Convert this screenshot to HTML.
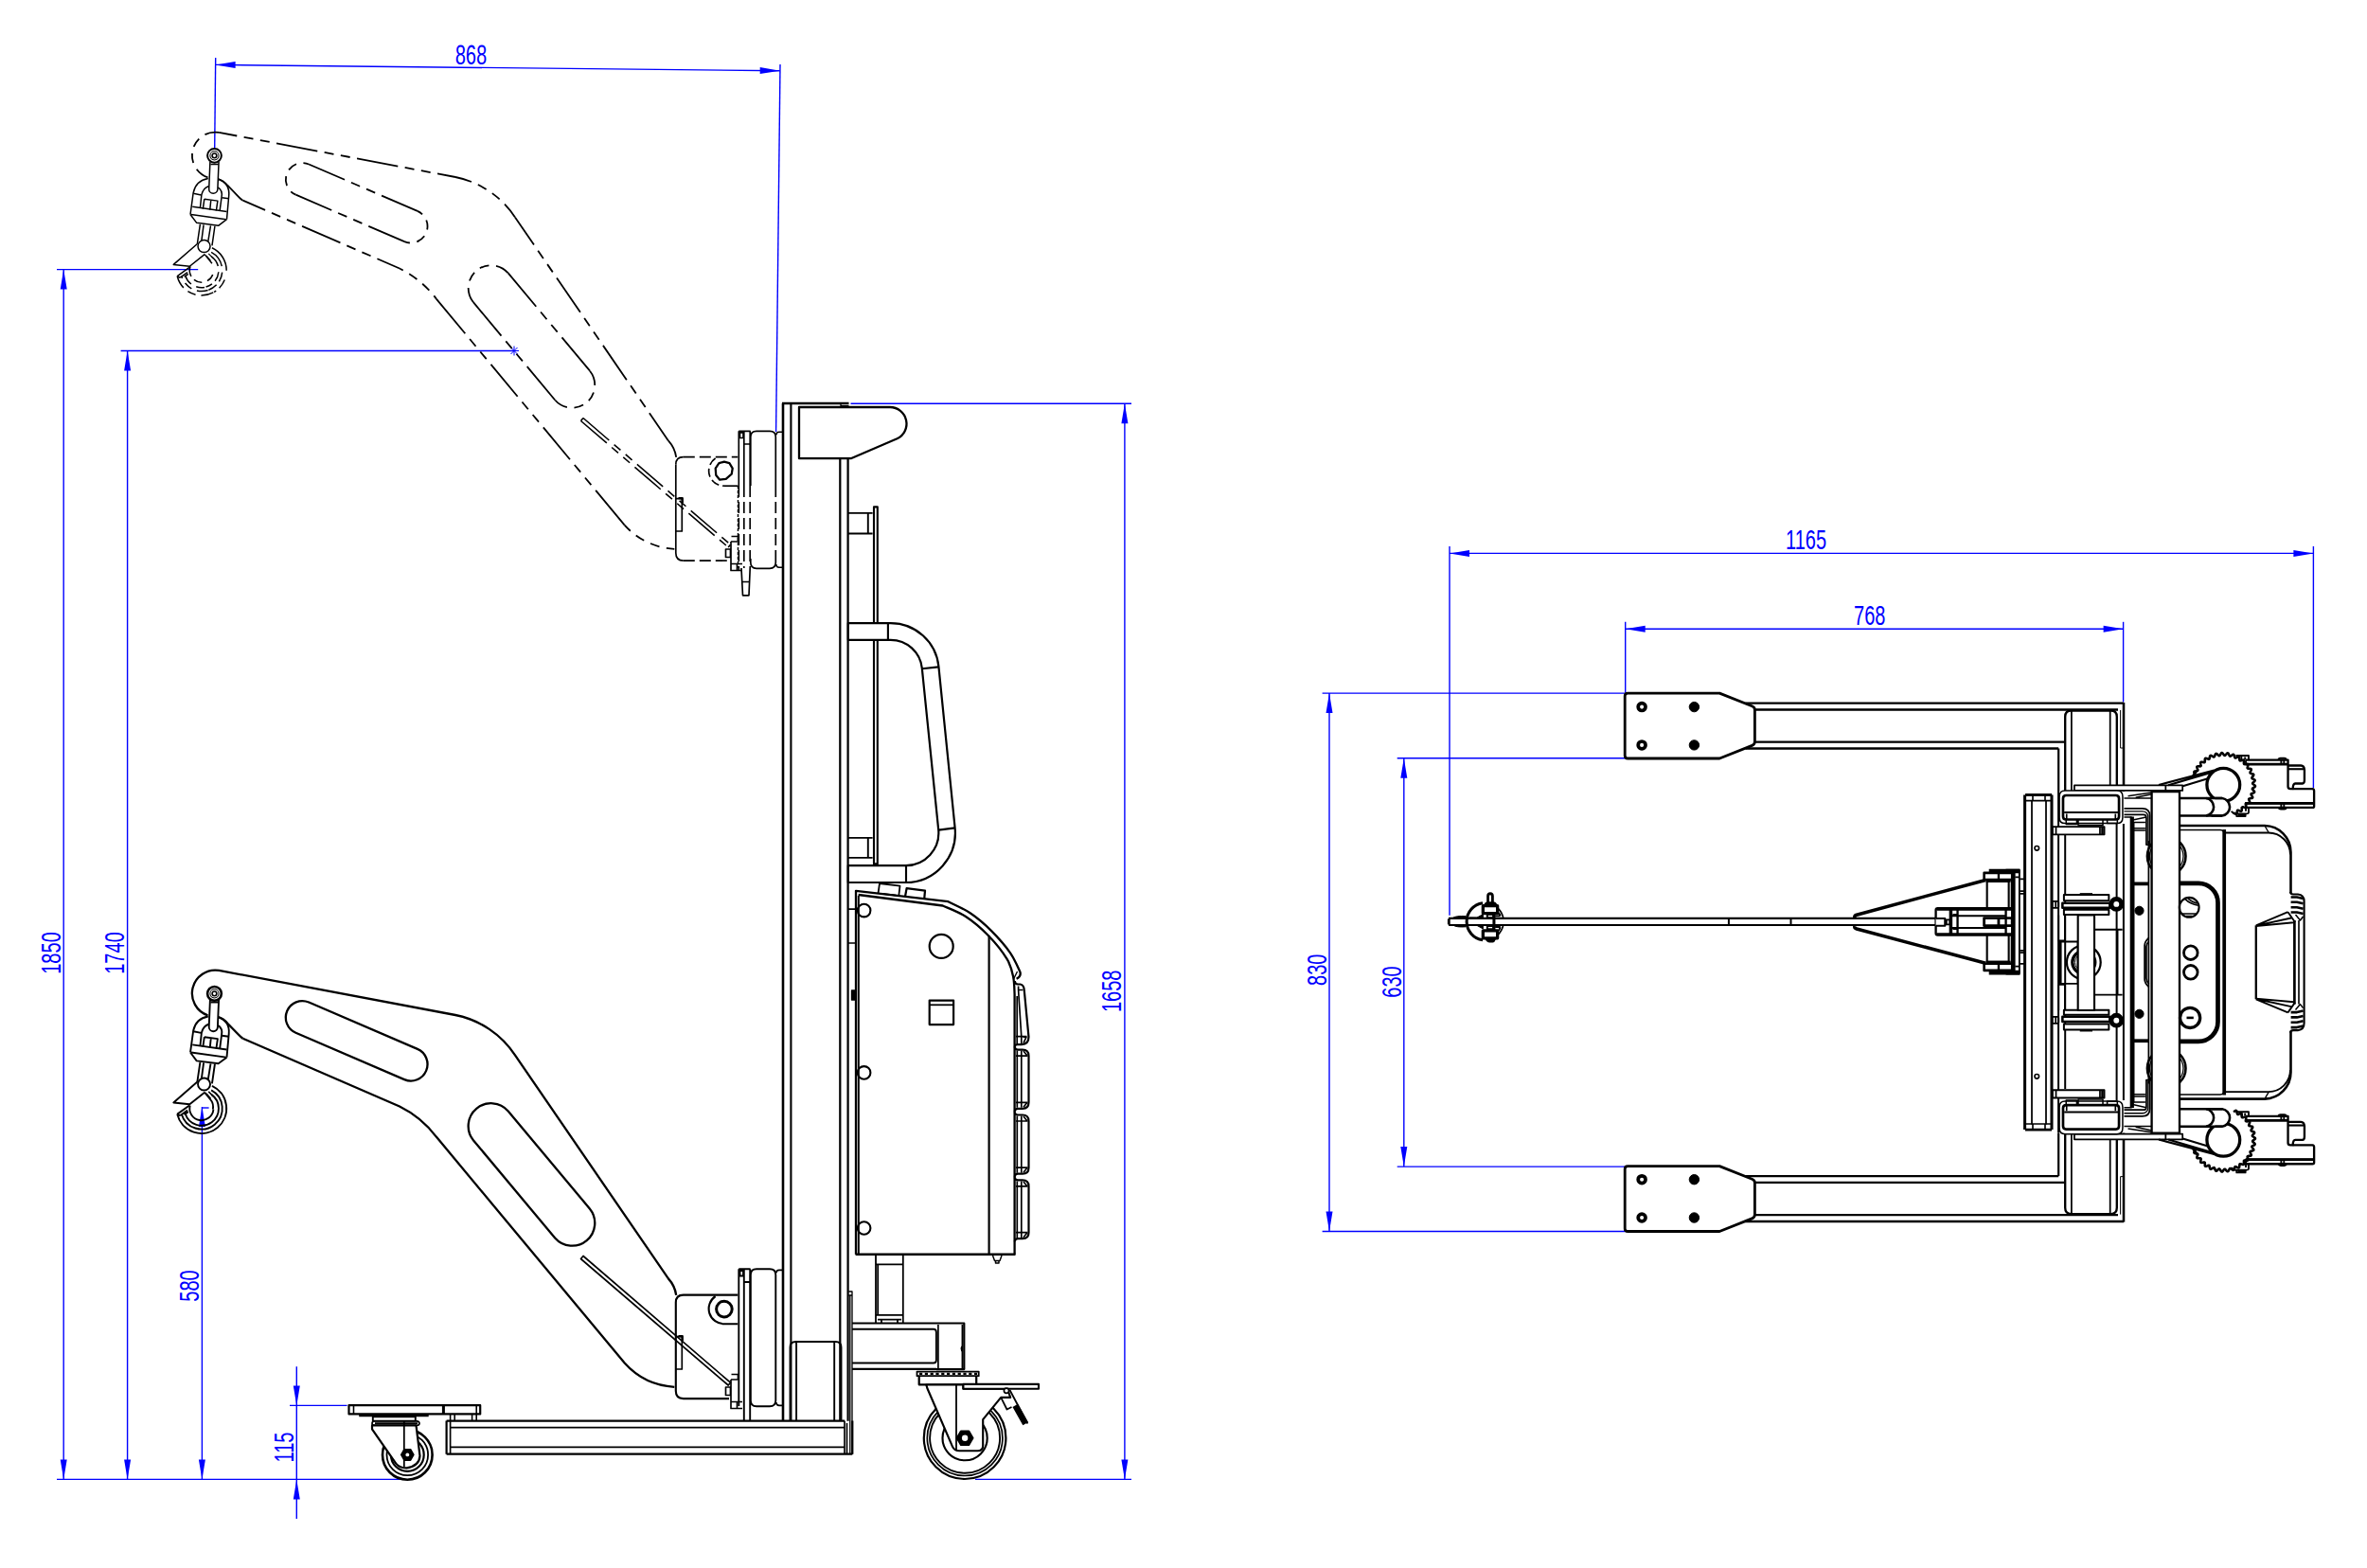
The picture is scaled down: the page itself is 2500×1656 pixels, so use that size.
<!DOCTYPE html>
<html><head><meta charset="utf-8"><title>drawing</title>
<style>html,body{margin:0;padding:0;background:#fff}svg{display:block}text{font-family:"Liberation Sans",sans-serif}</style></head><body>
<svg width="2500" height="1656" viewBox="0 0 2500 1656">
<rect width="2500" height="1656" fill="#fff"/>
<g stroke="#0000ff" fill="none">
<line x1="60.0" y1="1562.4" x2="424.0" y2="1562.4" stroke-width="1.4" />
<line x1="60.0" y1="284.6" x2="209.2" y2="284.6" stroke-width="1.4" />
<line x1="67.2" y1="284.6" x2="67.2" y2="1562.4" stroke-width="1.4" />
<polygon points="67.2,284.6 70.7,305.6 63.7,305.6" fill="#0000ff" stroke="none"/>
<polygon points="67.2,1562.4 63.7,1541.4 70.7,1541.4" fill="#0000ff" stroke="none"/>
<line x1="127.6" y1="370.5" x2="543.0" y2="370.5" stroke-width="1.4" />
<line x1="134.6" y1="370.5" x2="134.6" y2="1562.4" stroke-width="1.4" />
<polygon points="134.6,370.5 138.1,391.5 131.1,391.5" fill="#0000ff" stroke="none"/>
<polygon points="134.6,1562.4 131.1,1541.4 138.1,1541.4" fill="#0000ff" stroke="none"/>
<path d="M539.5,367 l7,7 m0,-7 l-7,7 M538,370.5 h10 M543,365.5 v10" stroke-width="1.0" />
<line x1="213.4" y1="1169.0" x2="213.4" y2="1562.4" stroke-width="1.4" />
<polygon points="213.4,1169.0 216.9,1190.0 209.9,1190.0" fill="#0000ff" stroke="none"/>
<polygon points="213.4,1562.4 209.9,1541.4 216.9,1541.4" fill="#0000ff" stroke="none"/>
<line x1="214.0" y1="1170.0" x2="220.6" y2="1170.0" stroke-width="1.4" />
<line x1="313.3" y1="1443.3" x2="313.3" y2="1604.0" stroke-width="1.4" />
<line x1="306.0" y1="1484.4" x2="366.6" y2="1484.4" stroke-width="1.4" />
<polygon points="313.3,1484.4 309.8,1463.4 316.8,1463.4" fill="#0000ff" stroke="none"/>
<polygon points="313.3,1562.4 316.8,1583.4 309.8,1583.4" fill="#0000ff" stroke="none"/>
<line x1="898.5" y1="426.3" x2="1195.0" y2="426.3" stroke-width="1.4" />
<line x1="1187.9" y1="426.3" x2="1187.9" y2="1562.4" stroke-width="1.4" />
<line x1="1030.0" y1="1562.4" x2="1195.0" y2="1562.4" stroke-width="1.4" />
<polygon points="1187.9,426.3 1191.4,447.3 1184.4,447.3" fill="#0000ff" stroke="none"/>
<polygon points="1187.9,1562.4 1184.4,1541.4 1191.4,1541.4" fill="#0000ff" stroke="none"/>
<line x1="227.7" y1="61.0" x2="226.7" y2="156.0" stroke-width="1.4" />
<line x1="824.0" y1="68.0" x2="819.6" y2="456.0" stroke-width="1.4" />
<line x1="227.6" y1="68.4" x2="823.7" y2="74.8" stroke-width="1.4" />
<polygon points="227.6,68.4 248.6,65.1 248.6,72.1" fill="#0000ff" stroke="none"/>
<polygon points="823.7,74.8 802.7,78.1 802.7,71.1" fill="#0000ff" stroke="none"/>
<line x1="1531.0" y1="577.0" x2="1531.0" y2="966.8" stroke-width="1.4" />
<line x1="2443.4" y1="577.0" x2="2443.4" y2="832.0" stroke-width="1.4" />
<line x1="1531.0" y1="584.4" x2="2443.4" y2="584.4" stroke-width="1.4" />
<polygon points="1531.0,584.4 1552.0,580.9 1552.0,587.9" fill="#0000ff" stroke="none"/>
<polygon points="2443.4,584.4 2422.4,587.9 2422.4,580.9" fill="#0000ff" stroke="none"/>
<line x1="1716.7" y1="656.8" x2="1716.7" y2="731.3" stroke-width="1.4" />
<line x1="2242.6" y1="656.8" x2="2242.6" y2="741.5" stroke-width="1.4" />
<line x1="1716.7" y1="664.2" x2="2242.6" y2="664.2" stroke-width="1.4" />
<polygon points="1716.7,664.2 1737.7,660.7 1737.7,667.7" fill="#0000ff" stroke="none"/>
<polygon points="2242.6,664.2 2221.6,667.7 2221.6,660.7" fill="#0000ff" stroke="none"/>
<line x1="1396.6" y1="732.1" x2="1716.7" y2="732.1" stroke-width="1.4" />
<line x1="1396.6" y1="1300.5" x2="1716.7" y2="1300.5" stroke-width="1.4" />
<line x1="1404.0" y1="732.1" x2="1404.0" y2="1300.5" stroke-width="1.4" />
<polygon points="1404.0,732.1 1407.5,753.1 1400.5,753.1" fill="#0000ff" stroke="none"/>
<polygon points="1404.0,1300.5 1400.5,1279.5 1407.5,1279.5" fill="#0000ff" stroke="none"/>
<line x1="1475.7" y1="800.7" x2="1716.7" y2="800.7" stroke-width="1.4" />
<line x1="1475.7" y1="1232.1" x2="1716.7" y2="1232.1" stroke-width="1.4" />
<line x1="1482.8" y1="800.7" x2="1482.8" y2="1232.1" stroke-width="1.4" />
<polygon points="1482.8,800.7 1486.3,821.7 1479.3,821.7" fill="#0000ff" stroke="none"/>
<polygon points="1482.8,1232.1 1479.3,1211.1 1486.3,1211.1" fill="#0000ff" stroke="none"/>
</g>
<text transform="translate(63.9,1006.5) rotate(-90) scale(0.69,1)" text-anchor="middle" font-size="29" fill="#0000ff" stroke="none">1850</text>
<text transform="translate(131.0,1006.5) rotate(-90) scale(0.69,1)" text-anchor="middle" font-size="29" fill="#0000ff" stroke="none">1740</text>
<text transform="translate(210.2,1358.0) rotate(-90) scale(0.69,1)" text-anchor="middle" font-size="29" fill="#0000ff" stroke="none">580</text>
<text transform="translate(310.0,1528.5) rotate(-90) scale(0.69,1)" text-anchor="middle" font-size="29" fill="#0000ff" stroke="none">115</text>
<text transform="translate(1184.2,1046.8) rotate(-90) scale(0.69,1)" text-anchor="middle" font-size="29" fill="#0000ff" stroke="none">1658</text>
<text transform="translate(497.4,67.8) rotate(0.6) scale(0.69,1)" text-anchor="middle" font-size="29" fill="#0000ff" stroke="none">868</text>
<text transform="translate(1907.5,580.0) rotate(0) scale(0.69,1)" text-anchor="middle" font-size="29" fill="#0000ff" stroke="none">1165</text>
<text transform="translate(1974.7,660.0) rotate(0) scale(0.69,1)" text-anchor="middle" font-size="29" fill="#0000ff" stroke="none">768</text>
<text transform="translate(1401.0,1024.2) rotate(-90) scale(0.69,1)" text-anchor="middle" font-size="29" fill="#0000ff" stroke="none">830</text>
<text transform="translate(1479.8,1037.0) rotate(-90) scale(0.69,1)" text-anchor="middle" font-size="29" fill="#0000ff" stroke="none">630</text>
<g transform="translate(0,0)" fill="none" stroke="#000" stroke-linecap="butt">
<path d="M231.2,139.9 A24.5,24.5 0 0 0 219.5,187.3" stroke-width="1.8" stroke-dasharray="15.1 7.5 10.0 7.5 10.0 7.5 17.1 1000.0"/>
<path d="M231.2,139.9 L481,187" stroke-width="1.8" stroke-dasharray="19.4 7.5 10.0 7.5 10.0 7.5 44.0 7.5 10.0 7.5 10.0 7.5 44.0 7.5 10.0 7.5 10.0 7.5 21.4 1000.0"/>
<path d="M481,187 A99,99 0 0 1 544,229.4" stroke-width="1.8" stroke-dasharray="17.7 7.5 10.0 7.5 10.0 7.5 19.7 1000.0"/>
<path d="M544,229.4 L705.9,465.4" stroke-width="1.8" stroke-dasharray="35.3 7.5 10.0 7.5 10.0 7.5 44.0 7.5 10.0 7.5 10.0 7.5 44.0 7.5 10.0 7.5 10.0 7.5 37.3 1000.0"/>
<path d="M705.9,465.4 A33,33 0 0 1 714.2,482.9" stroke-width="1.8" />
<path d="M229.9,188.8 Q236,190.5 240.5,196 L252,207.8 Q254,210 256.5,211.7" stroke-width="1.8" />
<path d="M256.5,211.7 L422,283.5" stroke-width="1.8" stroke-dasharray="25.7 7.5 10.0 7.5 10.0 7.5 44.0 7.5 10.0 7.5 10.0 7.5 27.7 1000.0"/>
<path d="M422,283.5 A108.7,108.7 0 0 1 460.8,315.6" stroke-width="1.8" stroke-dasharray="4.2 7.5 10.0 7.5 10.0 7.5 6.2 1000.0"/>
<path d="M460.8,315.6 L659.7,554.6" stroke-width="1.8" stroke-dasharray="47.7 7.5 10.0 7.5 10.0 7.5 44.0 7.5 10.0 7.5 10.0 7.5 44.0 7.5 10.0 7.5 10.0 7.5 49.7 1000.0"/>
<path d="M659.7,554.6 A76,76 0 0 0 712.3,579.8" stroke-width="1.8" stroke-dasharray="8.7 7.5 10.0 7.5 10.0 7.5 10.7 1000.0"/>
<path d="M326.2,173.5 L440.9,222.9" stroke-width="1.8" stroke-dasharray="41.2 7.5 10.0 7.5 10.0 7.5 43.2 1000.0"/>
<path d="M312.4,205.7 L427.1,255.1" stroke-width="1.8" stroke-dasharray="41.2 7.5 10.0 7.5 10.0 7.5 43.2 1000.0"/>
<path d="M440.9,222.9 A17.5,17.5 0 0 1 427.1,255.1" stroke-width="1.8" stroke-dasharray="6.2 7.5 10.0 7.5 10.0 7.5 8.2 1000.0"/>
<path d="M312.4,205.7 A17.5,17.5 0 0 1 326.2,173.5" stroke-width="1.8" stroke-dasharray="6.2 7.5 10.0 7.5 10.0 7.5 8.2 1000.0"/>
<path d="M536.7,288.4 L623.0,391.7" stroke-width="1.8" stroke-dasharray="46.1 7.5 10.0 7.5 10.0 7.5 48.1 1000.0"/>
<path d="M499.9,319.2 L586.2,422.5" stroke-width="1.8" stroke-dasharray="46.1 7.5 10.0 7.5 10.0 7.5 48.1 1000.0"/>
<path d="M623.0,391.7 A24,24 0 0 1 586.2,422.5" stroke-width="1.8" stroke-dasharray="16.4 7.5 10.0 7.5 10.0 7.5 18.4 1000.0"/>
<path d="M499.9,319.2 A24,24 0 0 1 536.7,288.4" stroke-width="1.8" stroke-dasharray="16.4 7.5 10.0 7.5 10.0 7.5 18.4 1000.0"/>
</g>
<g transform="translate(0,885)" fill="none" stroke="#000" stroke-linecap="butt">
<path d="M231.2,139.9 L481,187 A99,99 0 0 1 544,229.4 L705.9,465.4 A33,33 0 0 1 714.2,482.9 M231.2,139.9 A24.5,24.5 0 0 0 219.5,187.3 " stroke-width="2.3" />
<path d="M256.5,211.7 L422,283.5 A108.7,108.7 0 0 1 460.8,315.6 L659.7,554.6 A76,76 0 0 0 712.3,579.8" stroke-width="2.3" />
<path d="M229.9,188.8 Q236,190.5 240.5,196 L252,207.8 Q254,210 256.5,211.7" stroke-width="2.3" />
<path d="M326.2,173.5 L440.9,222.9 A17.5,17.5 0 0 1 427.1,255.1 L312.4,205.7 A17.5,17.5 0 0 1 326.2,173.5 Z" stroke-width="2.3" />
<path d="M536.7,288.4 L623.0,391.7 A24,24 0 0 1 586.2,422.5 L499.9,319.2 A24,24 0 0 1 536.7,288.4 Z" stroke-width="2.3" />
</g>
<g fill="none" stroke="#000" stroke-linejoin="round">
<line x1="827.0" y1="426.0" x2="827.0" y2="1500.8" stroke-width="2.6" />
<line x1="835.4" y1="427.0" x2="835.4" y2="1500.8" stroke-width="2.1" />
<line x1="826.0" y1="426.0" x2="896.5" y2="426.0" stroke-width="2.3" />
<line x1="888.0" y1="428.6" x2="896.5" y2="428.6" stroke-width="1.34" />
<line x1="888.0" y1="426.0" x2="888.0" y2="430.0" stroke-width="1.34" />
<line x1="887.3" y1="484.5" x2="887.3" y2="1500.8" stroke-width="2.24" />
<line x1="895.6" y1="484.5" x2="895.6" y2="1500.8" stroke-width="2.24" />
<path d="M844,430 L940,430 A17.5,17.5 0 0 1 947.5,463.3 L898.7,484.2 L844,484.2 Z" stroke-width="2.3" />
<rect x="923.0" y="535.4" width="3.8" height="377.0" rx="0" stroke-width="2.13" />
<path d="M895.8,541.9 H921.6 M895.8,563.5 H921.6 M916.8,541.9 V563.5" stroke-width="1.9" />
<path d="M895.8,884.9 H921.6 M895.8,905.9 H921.6 M916.8,884.9 V905.9" stroke-width="1.9" />
<path d="M895.8,658.1 H940.7 A51,51 0 0 1 991.4,703.9 L1008.6,874.2 A52.4,52.4 0 0 1 956.5,932 H895.8 V914.1 H956.5 A34.5,34.5 0 0 0 991.2,876.4 L973.8,705.7 A33.3,33.3 0 0 0 940.7,675.8 H895.8 Z" stroke-width="2.2" fill="#fff"/>
<path d="M937.9,658.1 V675.8 M973.8,706.3 L991.2,704.4 M991.2,876.6 L1008.6,874.4 M957,913.8 V932" stroke-width="2.13" />
<path d="M904,1324.8 V940.8 L1001.5,952.2  C1005.4,954.2 1017.4,959.4 1025.0,964.5 C1032.6,969.6 1040.1,976.1 1047.1,983.1 C1054.1,990.1 1062.0,999.1 1067.0,1006.3 C1072.0,1013.5 1075.6,1022.9 1077.3,1026.2 Q1079,1031 1073.6,1033.8" stroke-width="2.3" />
<path d="M906.6,945 L995.7,956.5  C999.8,958.4 1012.0,962.8 1020.0,968.0 C1028.0,973.2 1036.5,980.5 1043.8,988.0 C1051.1,995.5 1059.2,1005.6 1063.6,1012.9 C1068.0,1020.2 1068.9,1025.8 1070.2,1032.0 C1071.5,1038.2 1071.4,1047.0 1071.6,1050.0 V1324.8" stroke-width="2.3" />
<path d="M1074.5,1026 L1070.5,1034" stroke-width="1.34" />
<path d="M903.6,1324.8 H1072.5" stroke-width="2.6" />
<line x1="906.8" y1="946.0" x2="906.8" y2="1324.0" stroke-width="2.02" />
<line x1="1044.6" y1="988.0" x2="1044.6" y2="1324.8" stroke-width="2.2" />
<circle cx="994.2" cy="999.4" r="12.5" stroke-width="2.2" />
<circle cx="912.6" cy="961.6" r="6.8" stroke-width="2.1" />
<circle cx="912.6" cy="1132.9" r="6.8" stroke-width="2.1" />
<circle cx="912.6" cy="1297.0" r="6.8" stroke-width="2.1" />
<rect x="981.7" y="1056.6" width="25.4" height="25.5" rx="0" stroke-width="2.2" />
<line x1="981.7" y1="1061.3" x2="1007.1" y2="1061.3" stroke-width="1.79" />
<path d="M927.5,943.5 L929,933 L950.5,935.6 L949.3,946 M931.5,943.9 L946.5,945.7" stroke-width="1.79" />
<path d="M956,947 L957.6,938.1 L977,940.6 L976.2,949.6" stroke-width="2.24" />
<path d="M895.9,960.1 H903.3 M895.9,996 H903.3" stroke-width="1.57" />
<rect x="899.5" y="1046.0" width="4.0" height="10.0" rx="0" stroke-width="1.34" fill="#000"/>
<path d="M1071.8,1036 Q1072,1039.5 1075,1039.5 H1077.5 Q1081.5,1040 1081.8,1046 L1086.5,1095.1 Q1086.5,1103.1 1079,1103.1 H1074.5 Q1072,1103.1 1071.8,1105.6" stroke-width="2.2" />
<path d="M1075.6,1041.5 V1045.5 L1078.8,1094.6 V1102.1 M1075.6,1045.5 H1080.5 M1073,1094.6 H1084.5 M1074.2,1052 V1102.1 M1080.5,1095.1 L1084,1095.1 L1081,1101.6" stroke-width="1.68" />
<path d="M1071.8,1105.6 Q1072,1108.6 1075,1108.6 H1080 Q1086.5,1108.6 1086.5,1115.1 V1164.3 Q1086.5,1170.8 1080,1170.8 H1075 Q1072,1170.8 1071.8,1173.8" stroke-width="2.2" />
<path d="M1074.3,1109.6 V1169.8 M1078.8,1109.6 V1169.8 M1073,1115.1 H1085.5 M1073,1164.3 H1085.5 M1081,1110.1 L1085,1115.1 M1081,1169.3 L1085,1164.3" stroke-width="1.68" />
<path d="M1071.8,1174.5 Q1072,1177.5 1075,1177.5 H1080 Q1086.5,1177.5 1086.5,1184.0 V1233.2 Q1086.5,1239.7 1080,1239.7 H1075 Q1072,1239.7 1071.8,1242.7" stroke-width="2.2" />
<path d="M1074.3,1178.5 V1238.7 M1078.8,1178.5 V1238.7 M1073,1184.0 H1085.5 M1073,1233.2 H1085.5 M1081,1179.0 L1085,1184.0 M1081,1238.2 L1085,1233.2" stroke-width="1.68" />
<path d="M1071.8,1243.4 Q1072,1246.4 1075,1246.4 H1080 Q1086.5,1246.4 1086.5,1252.9 V1301.7 Q1086.5,1308.2 1080,1308.2 H1075 Q1072,1308.2 1071.8,1311.2" stroke-width="2.2" />
<path d="M1074.3,1247.4 V1307.2 M1078.8,1247.4 V1307.2 M1073,1252.9 H1085.5 M1073,1301.7 H1085.5 M1081,1247.9 L1085,1252.9 M1081,1306.7 L1085,1301.7" stroke-width="1.68" />
<path d="M1048.5,1326 L1050.5,1331.5 H1056 L1058,1326 M1051.5,1331.5 V1334 H1055 V1331.5" stroke-width="1.46" />
<path d="M925,1325 V1397.5 M953.8,1325 V1397.5 M927.2,1335.3 V1388.9 M925,1335.3 H953.8 M925,1388.9 H953.8 M927,1393.7 H952 M931,1393.7 V1397 M948,1393.7 V1397" stroke-width="1.79" />
<path d="M896.3,1364 H900 V1535.6 M897.8,1368 V1535.6 M896.3,1368 H900" stroke-width="1.34" />
<path d="M900,1397.5 H1018.3 V1446.1 H989 M900,1445.8 H989" stroke-width="2.2" />
<path d="M900,1403.8 H986 Q988.9,1403.8 988.9,1407 V1436.5 Q988.9,1439.5 986,1439.5 H900" stroke-width="1.9" />
<path d="M990.9,1399 V1445 M1016.4,1399 V1445" stroke-width="1.68" />
<path d="M1016,1422 q-1.5,2.5 0,5" stroke-width="1.68" />
<path d="M968.5,1448.6 H1033.7 V1453.2 H968.5 Z" stroke-width="1.79" />
<line x1="971.0" y1="1450.9" x2="1032.0" y2="1450.9" stroke-width="2.2" stroke-dasharray="3.2 2.6"/>
<path d="M970.7,1453.2 V1462.3 H1017.4 M1031.2,1453.2 V1462 " stroke-width="2.24" />
<circle cx="1019.1" cy="1518.7" r="43.3" stroke-width="2.2" />
<circle cx="1019.1" cy="1518.7" r="39.8" stroke-width="1.68" />
<circle cx="1019.1" cy="1518.7" r="37.0" stroke-width="1.9" />
<circle cx="1019.1" cy="1518.7" r="23.6" stroke-width="2.13" />
<path d="M978.3,1462.5 L979.3,1466 L1005.8,1527.3 Q1008,1532.3 1013.3,1532.3 H1032.4 Q1038.2,1532.3 1038.2,1526.5 V1499.2 L1057.2,1475.9 H1067.2 L1064,1466.8 H1017.4 V1462.3 Z" stroke-width="2.13" fill="#fff"/>
<path d="M1017.4,1461.9 H1097 V1466.8 H1017.4 Z" stroke-width="2.13" fill="#fff"/>
<circle cx="1063.0" cy="1468.8" r="2.6" stroke-width="1.68" fill="#fff"/>
<line x1="1010.0" y1="1462.3" x2="1010.0" y2="1531.8" stroke-width="1.79" />
<path d="M1027.4,1518.7 L1023.2,1525.9 H1015 L1010.8,1518.7 L1015,1511.5 H1023.2 Z" stroke-width="2.24" fill="#000"/>
<circle cx="1019.1" cy="1518.7" r="3.2" stroke-width="1.12" fill="#fff" stroke="none"/>
<path d="M1057.2,1475.9 L1063.5,1488.5 L1068.5,1486 M1066.5,1468 L1085.4,1503.5" stroke-width="1.79" />
<path d="M1072.3,1484.4 L1083.2,1503.6" stroke-width="6.5" stroke-linecap="butt"/>
<path d="M834.5,1500.8 V1423 Q834.5,1417 840.5,1417 H882.5 Q888.5,1417 888.5,1423 V1500.8 M841.1,1418 V1500.8 M881.2,1418 V1500.8" stroke-width="1.9" />
<path d="M471.6,1500.6 H892 M471.6,1535.7 H900.3 M471.6,1500.6 V1535.7 M900.3,1500.6 V1535.7" stroke-width="2.2" />
<path d="M475.6,1507.6 H892 M475.6,1528.3 H892 M475.6,1500.6 V1535.7 M892,1500.6 V1535.7 M894.5,1503 V1535" stroke-width="1.68" />
<rect x="368.5" y="1484.2" width="138.7" height="9.2" rx="0" stroke-width="2.2" />
<path d="M373.5,1484.2 V1493.4 M503.2,1484.2 V1493.4" stroke-width="1.57" />
<line x1="468.4" y1="1484.2" x2="468.4" y2="1493.4" stroke-width="3" />
<path d="M475.6,1493.4 V1500.4 M480.2,1493.4 V1500.4 M498.6,1493.4 V1500.4 M503.2,1493.4 V1500.4" stroke-width="1.57" />
<path d="M379.2,1494.8 H452.7" stroke-width="2.8" />
<rect x="393.8" y="1496.2" width="45.0" height="4.4" rx="0" stroke-width="1.9" />
<path d="M395.5,1500.8 H440 Q443,1501 443,1503.2 Q443,1505.4 440,1505.4 H395.5 Q393,1505.4 393,1503.2 Q393,1501 395.5,1500.8 M396,1503.2 H441" stroke-width="1.68" />
<circle cx="430.3" cy="1536.4" r="26.3" stroke-width="2.6" />
<circle cx="430.3" cy="1536.4" r="21.8" stroke-width="1.79" />
<circle cx="430.3" cy="1536.4" r="17.4" stroke-width="2.2" />
<path d="M393,1505.4 V1509.4 L418.2,1545.6 Q422.5,1550.6 429.7,1550.4 Q443,1548 443.5,1537.6 L439.5,1505.4 Z" stroke-width="2.2" fill="#fff"/>
<line x1="426.8" y1="1500.8" x2="426.8" y2="1549.5" stroke-width="1.79" />
<path d="M436.8,1536.4 L433.5,1542 H427.1 L423.8,1536.4 L427.1,1530.8 H433.5 Z" stroke-width="1.79" fill="#000"/>
<circle cx="430.3" cy="1536.4" r="1.9" stroke-width="1.12" fill="#fff" stroke="none"/>
</g>
<g transform="translate(0,0)" fill="none" stroke="#000" stroke-linejoin="round">
<path d="M713.8,490.6 Q713.8,482.6 721.8,482.6" stroke-width="1.68" />
<path d="M721.8,482.6 H779.3" stroke-width="1.68" stroke-dasharray="12 5"/>
<path d="M713.8,490.6 V584 Q713.8,592.1 721.8,592.1" stroke-width="1.68" />
<path d="M721.8,592.1 H772" stroke-width="1.68" stroke-dasharray="12 5"/>
<path d="M713.8,526.7 H720.3 V561 H713.8" stroke-width="1.68" />
<path d="M716.5,526.2 H720.8 V531" stroke-width="2.2" />
<path d="M755.6,484 A16,16 0 0 0 764.9,513.2" stroke-width="1.68" stroke-dasharray="9 4"/>
<path d="M764.9,513.2 H779.3" stroke-width="1.68" />
<path d="M764.9,487.7 l5.5,1.5 l3.3,5.5 l-1,6 l-6,5.2 l-6.5,0.8 l-4,-5 l-0.5,-7 l3.7,-5.5 Z" stroke-width="2.24" />
<path d="M613.5,444.5 L769.2,578 M616,441.5 L771.5,575.2" stroke-width="1.57" stroke-dasharray="36 7 9 7 9 7" stroke-dashoffset="0"/>
<path d="M613.5,444.5 L616,441.5 M769.2,578 L771.5,575.2" stroke-width="1.57" />
<path d="M772.5,566.5 H779.5 V572 M766.5,580 H771.5 V588.5 H766.5 Z M772,572 V602.5 H784 M772,595.5 H784 M778.5,595.5 V602.5 M772,572 H779.5" stroke-width="1.68" />
<path d="M780.3,455.3 H792.6 M780.3,455.3 V513 M781.5,457 H785 V462.5 H781.5 Z M785.8,455.3 V513 M792.2,455.3 V513 M786,469 H792.5" stroke-width="1.68" />
<path d="M780.3,513 V602 M785.8,513 V600 M792.2,513 V595" stroke-width="1.68" stroke-dasharray="12 5"/>
<path d="M783,600 L784.5,628.8 H791 L792.3,598 M784.2,614.5 H791.6" stroke-width="1.68" />
<path d="M779.5,513 V600" stroke-width="1.46" stroke-dasharray="3 2"/>
<path d="M792.8,513 V461.5 Q792.8,455.3 799,455.3 H813 Q819.3,455.3 819.3,461.5 V513 M792.8,590 V594 Q792.8,600.3 799,600.3 H813 Q819.3,600.3 819.3,594 V590" stroke-width="1.68" />
<path d="M819.3,513 V590" stroke-width="1.68" stroke-dasharray="12 5"/>
<path d="M826.5,456.3 H823 Q819.8,456.3 819.8,459.5 M819.8,596 Q819.8,599.3 823,599.3 H826.5" stroke-width="1.57" />
</g>
<g transform="translate(0,885)" fill="none" stroke="#000" stroke-linejoin="round">
<path d="M713.8,490.6 Q713.8,482.6 721.8,482.6 H779.3 M713.8,490.6 V584 Q713.8,592.1 721.8,592.1 H770" stroke-width="2.13" />
<path d="M713.8,526.7 H720.3 V561 H713.8" stroke-width="1.68" />
<path d="M716.5,526.2 H720.8 V531" stroke-width="2.2" />
<path d="M755.6,484 A16,16 0 0 0 764.9,513.2 H779.3" stroke-width="2.13" />
<circle cx="764.9" cy="497.6" r="8.3" stroke-width="3.0" />
<path d="M613.5,444.5 L769.2,578 L771.5,575.2 L616,441.5 Z" stroke-width="1.68" />
<path d="M772.5,566.5 H779.5 V572 M766.5,580 H771.5 V588.5 H766.5 Z M772,572 V602.5 H784 M772,595.5 H784 M778.5,595.5 V602.5 M772,572 H779.5" stroke-width="1.68" />
<path d="M780.3,455.3 H792.6 M780.3,455.3 V600 M781.5,457 H785 V462.5 H781.5 Z M785.8,455.3 V616 M792.2,455.3 V616 M786,469 H792.5" stroke-width="1.9" />
<path d="M799,455.3 H813 Q819.3,455.3 819.3,461.5 V594 Q819.3,600.3 813,600.3 H799 Q792.8,600.3 792.8,594 V461.5 Q792.8,455.3 799,455.3 Z" stroke-width="1.9" />
<path d="M826.5,456.3 H823 Q819.8,456.3 819.8,459.5 M819.8,596 Q819.8,599.3 823,599.3 H826.5" stroke-width="1.68" />
</g>
<g transform="translate(150,100) scale(0.14793)" fill="none" stroke="#000" stroke-linejoin="round" stroke-linecap="butt">
<path d="M345,855 L366,700 Q385,612 472,598 M545,603 Q628,632 620,722 L605,890" stroke-width="10.14" />
<path d="M415,810 L425,715 Q436,668 474,654 M542,662 Q578,684 568,732 L555,830" stroke-width="10.14" />
<path d="M367,705 L422,716 M570,735 L620,742" stroke-width="10.14" />
<path d="M360,800 L605,835 M350,855 L600,890" stroke-width="10.14" />
<path d="M345,855 L390,915 L545,935 L605,890" stroke-width="10.14" />
<path d="M445,745 L540,758 L530,828 M445,745 L435,815 M492,752 L485,822" stroke-width="10.14" />
<path d="M486,480 L478,672 A31,31 0 0 0 540,675 L548,480" stroke-width="10.14" fill="#fff"/>
<path d="M490,497 H546" stroke-width="10.14" />
<circle cx="517.0" cy="435.0" r="50.0" stroke-width="13.52" fill="#fff"/>
<circle cx="517.0" cy="435.0" r="31.0" stroke-width="6.76" />
<circle cx="517.0" cy="435.0" r="16.0" stroke-width="10.82" />
<path d="M415,925 L395,1062 M440,928 L425,1042 M490,935 L472,1047 M520,938 L500,1078" stroke-width="10.14" />
<path d="M397,1063 L225,1213 L340,1225 L447,1140" stroke-width="10.14" />
<path d="M500.2,1093.7 A178,178 0 0 1 603.0,1255.0" stroke-width="10.14" />
<path d="M590.0,1321.7 A178,178 0 0 1 514.0,1409.2" stroke-width="10.14" stroke-dasharray="70 30"/>
<path d="M508.6,1412.2 A178,178 0 0 1 252.3,1298.1" stroke-width="10.14" stroke-dasharray="90 40 60 40 400"/>
<path d="M494.5,1124.3 A148,148 0 0 1 569.8,1224.2" stroke-width="10.14" />
<path d="M572.4,1267.9 A148,148 0 0 1 475.6,1394.1" stroke-width="10.14" stroke-dasharray="70 30"/>
<path d="M470.7,1395.8 A148,148 0 0 1 282.7,1295.8" stroke-width="10.14" stroke-dasharray="80 40 60 40 400"/>
<path d="M495.0,1155.1 A122,122 0 0 1 542.8,1223.4" stroke-width="10.14" />
<path d="M546.5,1265.6 A122,122 0 0 1 456.6,1372.8" stroke-width="10.14" stroke-dasharray="70 30"/>
<path d="M446.2,1375.1 A122,122 0 0 1 309.0,1292.7" stroke-width="10.14" stroke-dasharray="60 40 400"/>
<path d="M504.9,1284.1 A85,85 0 0 1 351.4,1297.5" stroke-width="10.14" stroke-dasharray="60 40"/>
<path d="M351.4,1297.5 A85,85 0 0 1 345.1,1225.9" stroke-width="10.14" />
<path d="M447,1140 L500,1205" stroke-width="10.14" />
<path d="M250,1297 L338,1233 M250,1297 L272,1306 M272,1306 L325,1268 M302,1300 L330,1280" stroke-width="10.14" />
<path d="M460,1150 L490,1185 M475,1135 L510,1170" stroke-width="8.11" />
<circle cx="443.0" cy="1082.0" r="44.0" stroke-width="10.14" fill="#fff"/>
</g>
<g transform="translate(150,985) scale(0.14793)" fill="none" stroke="#000" stroke-linejoin="round" stroke-linecap="butt">
<path d="M345,855 L366,700 Q385,612 472,598 M545,603 Q628,632 620,722 L605,890" stroke-width="12.84" />
<path d="M415,810 L425,715 Q436,668 474,654 M542,662 Q578,684 568,732 L555,830" stroke-width="12.84" />
<path d="M367,705 L422,716 M570,735 L620,742" stroke-width="12.84" />
<path d="M360,800 L605,835 M350,855 L600,890" stroke-width="12.84" />
<path d="M345,855 L390,915 L545,935 L605,890" stroke-width="12.84" />
<path d="M445,745 L540,758 L530,828 M445,745 L435,815 M492,752 L485,822" stroke-width="12.84" />
<path d="M486,480 L478,672 A31,31 0 0 0 540,675 L548,480" stroke-width="12.84" fill="#fff"/>
<path d="M490,497 H546" stroke-width="12.84" />
<circle cx="517.0" cy="435.0" r="50.0" stroke-width="17.58" fill="#fff"/>
<circle cx="517.0" cy="435.0" r="31.0" stroke-width="6.76" />
<circle cx="517.0" cy="435.0" r="16.0" stroke-width="10.82" />
<path d="M415,925 L395,1062 M440,928 L425,1042 M490,935 L472,1047 M520,938 L500,1078" stroke-width="12.84" />
<path d="M397,1063 L225,1213 L340,1225 L447,1140" stroke-width="12.84" />
<path d="M500.2,1093.7 A178,178 0 1 1 252.3,1298.1" stroke-width="12.84" />
<path d="M494.5,1124.3 A148,148 0 1 1 282.7,1295.8" stroke-width="12.84" />
<path d="M495.0,1155.1 A122,122 0 1 1 309.0,1292.7" stroke-width="12.84" />
<path d="M447,1140 L495,1200 Q512,1225 506,1262" stroke-width="12.84" />
<path d="M509.7,1262.4 A85,85 0 1 1 342.9,1233.0" stroke-width="12.84" />
<path d="M250,1297 L338,1233 M250,1297 L272,1306 M272,1306 L325,1268 M302,1300 L330,1280" stroke-width="12.84" />
<path d="M460,1150 L490,1185 M475,1135 L510,1170" stroke-width="10.28" />
<circle cx="443.0" cy="1082.0" r="44.0" stroke-width="12.84" fill="#fff"/>
</g>
<g fill="none" stroke="#000" stroke-linejoin="round">
<path d="M2174.2,790.5 H1843.5 M1854,783.7 H2181" stroke-width="2.34" />
<path d="M1843.5,742.6 H2243 M1854,749.5 H2237" stroke-width="2.34" />
<path d="M1719.2,732.1 H1816.2 L1850.5,745.7 Q1853.4,746.8 1853.4,749.8 V783.3 Q1853.4,786.3 1850.5,787.4 L1816.2,801 H1719.2 Q1716.2,801 1716.2,798 V735.1 Q1716.2,732.1 1719.2,732.1 Z" stroke-width="2.81" fill="#fff"/>
<circle cx="1734.1" cy="746.6" r="3.9" stroke-width="3.74" />
<circle cx="1789.4" cy="746.6" r="5.2" stroke-width="1" fill="#000"/>
<circle cx="1734.1" cy="786.9" r="3.9" stroke-width="3.74" />
<circle cx="1789.4" cy="786.9" r="5.2" stroke-width="1" fill="#000"/>
<path d="M2181.2,835 V757 Q2181.2,750.5 2187.5,750.5 H2229.5 Q2235.8,750.5 2235.8,757 V829.3" stroke-width="2.34" />
<path d="M2187.9,751 V835 M2228.7,751 V829.3" stroke-width="1.75" />
<path d="M2243,742 V836" stroke-width="2.57" />
<path d="M2239.6,750 V790 H2242" stroke-width="1.0" />
<path d="M2174.2,790.5 V836" stroke-width="2.22" />
<g transform="translate(0,2032.6) scale(1,-1)">
<path d="M2174.2,790.5 H1843.5 M1854,783.7 H2181" stroke-width="2.34" />
<path d="M1843.5,742.6 H2243 M1854,749.5 H2237" stroke-width="2.34" />
<path d="M1719.2,732.1 H1816.2 L1850.5,745.7 Q1853.4,746.8 1853.4,749.8 V783.3 Q1853.4,786.3 1850.5,787.4 L1816.2,801 H1719.2 Q1716.2,801 1716.2,798 V735.1 Q1716.2,732.1 1719.2,732.1 Z" stroke-width="2.81" fill="#fff"/>
<circle cx="1734.1" cy="746.6" r="3.9" stroke-width="3.74" />
<circle cx="1789.4" cy="746.6" r="5.2" stroke-width="1" fill="#000"/>
<circle cx="1734.1" cy="786.9" r="3.9" stroke-width="3.74" />
<circle cx="1789.4" cy="786.9" r="5.2" stroke-width="1" fill="#000"/>
<path d="M2181.2,835 V757 Q2181.2,750.5 2187.5,750.5 H2229.5 Q2235.8,750.5 2235.8,757 V829.3" stroke-width="2.34" />
<path d="M2187.9,751 V835 M2228.7,751 V829.3" stroke-width="1.75" />
<path d="M2243,742 V836" stroke-width="2.57" />
<path d="M2239.6,750 V790 H2242" stroke-width="1.0" />
<path d="M2174.2,790.5 V836" stroke-width="2.22" />
</g>
<path d="M2174.1,836 V1196.6 M2181.2,882 V1150 M2235.6,870 V1162 M2242.9,870 V1162" stroke-width="1.99" />
<path d="M2139.39,839.49 H2167.14" stroke-width="2.57" />
<path d="M2138.6,839.5 V1193.1 M2167,839.5 V1193.1" stroke-width="3.04" />
<path d="M2139,839.5 H2167 M2139,1193.1 H2167" stroke-width="2.57" />
<path d="M2146,845 V1187.6 M2161,845 V1187.6" stroke-width="1.75" />
<path d="M2140,845.6 H2167 M2140,1187.0 H2167 M2147,840 V845.6 M2160,840 V845.6 M2147,1192.6 V1187.0 M2160,1192.6 V1187.0" stroke-width="1.64" />
<circle cx="2151.3" cy="895.8" r="2.3" stroke-width="1.64" />
<circle cx="2151.3" cy="1136.8" r="2.3" stroke-width="1.64" />
<path d="M2190.92,829.29 H2305.20 V834.90 H2190.92 Z" stroke-width="1.75" fill="#fff"/>
<path d="M2287.35,829.29 V834.90" stroke-width="1.75" />
<path d="M2181.22,834.90 H2235.82 Q2241.94,834.90 2241.94,841.02 V863.47 Q2241.94,869.59 2235.82,869.59 H2181.22 Q2175.10,869.59 2175.10,863.47 V841.02 Q2175.10,834.90 2181.22,834.90 Z" stroke-width="1.52" fill="#fff"/>
<path d="M2182.24,840.00 H2234.80 Q2238.06,840.00 2238.06,843.27 V862.24 Q2238.06,865.51 2234.80,865.51 H2182.24 Q2178.98,865.51 2178.98,862.24 V843.27 Q2178.98,840.00 2182.24,840.00 Z" stroke-width="2.69" />
<path d="M2180.20,858.06 H2237.35" stroke-width="1.99" />
<path d="M2182.76,859.39 V865.31 M2234.29,859.39 V865.31" stroke-width="1.64" />
<path d="M2182.24,866.02 V870.61 H2193.47 V866.02 M2225.61,866.02 V869.59 H2236.33 V866.02 M2195.00,866.02 V871.63 H2221.02 V866.02" stroke-width="1.52" />
<path d="M2167.96,873.16 H2222.55 V881.33 H2167.96 Z" stroke-width="1.87" fill="#fff"/>
<path d="M2171.53,873.16 V881.33 M2217.96,873.16 V881.33" stroke-width="1.75" />
<path d="M2220.51,873.16 V881.33" stroke-width="2.57" />
<path d="M2243.47,853.78 H2262.86 Q2270.51,853.78 2270.51,861.43 V892.04 H2266.94 V863.47 Q2266.94,860.41 2263.88,860.41 H2243.47" stroke-width="1.75" />
<path d="M2243.47,856.84 H2262.86 Q2267.96,857.04 2268.78,861.94 V891.02" stroke-width="1.29" />
<path d="M2243.47,843.06 H2272.55 M2243.47,862.96 H2251.63 M2247.55,840.71 L2272.24,836.94 M2255.71,842.24 L2272.55,838.67 M2252.65,866.02 L2266.94,862.96" stroke-width="1.52" />
<path d="M2253.67,868.57 H2265.92 M2253.67,874.69 H2265.92 M2253.67,876.94 H2265.92" stroke-width="1.52" />
<path d="M2253.67,933.37 H2270.00" stroke-width="3.74" />
<path d="M2179.90,945.00 H2227.35 V951.12 H2179.90 Z M2179.90,960.82 H2227.35 V965.92 H2179.90 Z" stroke-width="1.99" fill="#fff"/>
<path d="M2196.73,944.29 H2210.00" stroke-width="2.34" />
<path d="M2167.65,951.84 H2174.29 M2167.65,958.78 H2174.29 M2167.65,951.84 V958.78 M2171.22,952.65 V957.96 M2174.29,952.65 V957.96" stroke-width="1.75" />
<path d="M2178.37,953.67 H2228.37 V958.78 H2178.37 Z" stroke-width="2.57" fill="#fff"/>
<circle cx="2235.3" cy="954.9" r="5.4" stroke-width="4.91" fill="#fff"/>
<circle cx="2259.5" cy="961.8" r="4.6" stroke-width="1" fill="#000"/>
<path d="M2318.76,818.00 L2318.25,817.23 L2317.66,816.39 L2317.32,815.62 L2317.40,815.03 L2318.00,814.61 L2318.85,814.44 L2319.86,814.27 L2320.71,814.10 L2321.31,813.84 L2321.39,813.25 L2321.14,812.49 L2320.71,811.55 L2320.37,810.62 L2320.29,809.94 L2320.71,809.43 L2321.48,809.26 L2322.41,809.26 L2323.43,809.35 L2324.19,809.26 L2324.61,808.92 L2324.70,808.24 L2324.44,807.31 L2324.27,806.38 L2324.19,805.53 L2324.44,804.94 L2325.04,804.68 L2325.89,804.77 L2326.82,804.94 L2327.75,805.19 L2328.43,805.11 L2328.77,804.68 L2328.85,803.92 L2328.77,802.90 L2328.77,801.97 L2328.94,801.20 L2329.45,800.78 L2330.13,800.87 L2331.06,801.20 L2331.99,801.63 L2332.76,801.88 L2333.35,801.80 L2333.60,801.20 L2333.77,800.36 L2333.94,799.34 L2334.11,798.49 L2334.54,797.90 L2335.13,797.81 L2335.89,798.15 L2336.74,798.74 L2337.51,799.25 L2338.18,799.51 L2338.69,799.34 L2339.12,798.74 L2339.37,797.81 L2339.71,796.88 L2340.14,796.12 L2340.73,795.86 L2341.32,796.12 L2342.09,796.71 L2342.77,797.47 L2343.44,797.98 L2343.95,798.24 L2344.46,797.90 L2344.97,797.22 L2345.48,796.37 L2345.99,795.52 L2346.50,795.10 L2347.09,795.10 L2347.68,795.69 L2348.28,796.45 L2348.79,797.30 L2349.38,797.81 L2349.89,797.90 L2350.48,797.56 L2351.08,796.79 L2351.76,796.03 L2352.35,795.52 L2352.94,795.35 L2353.54,795.69 L2353.96,796.45 L2354.39,797.39 L2354.81,798.24 L2355.23,798.66 L2355.74,798.66 L2356.42,798.24 L2357.18,797.64 L2357.95,797.05 L2358.71,796.71 L2359.22,796.88 L2359.64,797.56 L2359.90,798.49 L2360.15,799.42 L2360.41,800.19 L2360.83,800.53 L2361.51,800.44 L2362.27,800.10 L2363.12,799.59 L2363.97,799.25 L2364.65,799.25 L2365.07,799.68 L2365.24,800.53 L2365.33,801.54 L2365.33,802.48 L2365.58,803.16 L2366.01,803.41 L2366.77,803.32 L2367.70,802.99 L2368.63,802.73 L2369.48,802.65 L2369.99,802.90 L2370.16,803.58 L2370.08,804.51 L2369.91,805.53 L2369.91,806.38 L2370.08,806.97 L2370.67,807.14 L2371.52,807.14 L2372.54,806.97 L2373.47,806.89 L2374.15,807.06 L2374.40,807.57 L2374.32,808.41 L2374.06,809.35 L2373.72,810.28 L2373.64,811.04 L2373.89,811.47 L2374.57,811.72 L2375.50,811.72 L2376.52,811.81 L2377.37,811.98 L2377.79,812.40 L2377.79,813.08 L2377.46,813.93 L2376.95,814.78 L2376.61,815.54 L2376.52,816.22 L2376.86,816.64 L2377.63,816.90 L2378.56,817.15 L2379.49,817.40 L2380.17,817.83 L2380.34,818.34 L2380.00,819.10 L2379.41,819.86 L2378.81,820.63 L2378.39,821.31 L2378.39,821.82 L2378.81,822.24 L2379.66,822.66 L2380.59,823.09 L2381.36,823.51 L2381.70,824.11 L2381.53,824.70 L2381.02,825.29 L2380.25,825.97 L2379.49,826.56 L2379.15,827.16 L2379.24,827.67 L2379.75,828.26 L2380.59,828.77 L2381.36,829.36 L2381.95,829.96 L2381.95,830.55 L2381.53,831.06 L2380.68,831.57 L2379.83,832.08 L2379.15,832.59 L2378.81,833.10 L2379.07,833.60 L2379.58,834.28 L2380.34,834.96 L2380.93,835.73 L2381.19,836.32 L2380.93,836.91 L2380.17,837.34 L2379.24,837.68 L2378.30,837.93 L2377.71,838.35 L2377.54,838.86 L2377.79,839.54 L2378.30,840.31 L2378.90,841.15 L2379.24,841.92 L2379.15,842.51 L2378.56,842.93 L2377.71,843.10 L2376.69,843.27 L2375.84,843.44 L2375.25,843.70 L2375.17,844.29 L2375.42,845.06 L2375.84,845.99 L2376.18,846.92 L2376.27,847.60 L2375.84,848.11 L2375.08,848.28 L2374.15,848.28 L2373.13,848.19 L2372.37,848.28 L2371.94,848.62 L2371.86,849.30 L2372.11,850.23 L2372.28,851.16 L2372.37,852.01 L2372.11,852.60 L2371.52,852.86 L2370.67,852.77 L2369.74,852.60 L2368.80,852.35 L2368.13,852.43 L2367.79,852.86 L2367.70,853.62 L2367.79,854.64 L2367.79,855.57 L2367.62,856.34 L2367.11,856.76 L2366.43,856.68 L2365.50,856.34 L2364.56,855.91 L2363.80,855.66 L2363.21,855.74 L2362.95,856.34 L2362.78,857.18 L2362.61,858.20 L2362.44,859.05 L2362.02,859.64 L2361.42,859.73 L2360.66,859.39 L2359.81,858.80 L2359.05,858.29" stroke-width="2.57" />
<path d="M2280.00,829.02 L2338.52,813.59 M2290.18,829.19 L2335.98,815.62 M2305.45,830.21 L2331.91,822.15" stroke-width="2.11" />
<path d="M2316.30,819.19 L2320.71,813.50" stroke-width="2.57" />
<circle cx="2348.3" cy="828.8" r="17.4" stroke-width="3.28" fill="#fff"/>
<path d="M2302.48,842.93 H2347.01 A9.33,9.33 0 0 1 2347.01,861.42 H2302.48" stroke-width="2.57" fill="#fff"/>
<path d="M2330.04,842.93 A9.33,9.33 0 0 1 2330.04,861.42" stroke-width="2.57" />
<path d="M2339.37,842.93 H2347.01 M2335.56,861.42 H2347.01" stroke-width="2.57" />
<g transform="translate(0,2032.6) scale(1,-1)">
<path d="M2190.92,829.29 H2305.20 V834.90 H2190.92 Z" stroke-width="1.75" fill="#fff"/>
<path d="M2287.35,829.29 V834.90" stroke-width="1.75" />
<path d="M2181.22,834.90 H2235.82 Q2241.94,834.90 2241.94,841.02 V863.47 Q2241.94,869.59 2235.82,869.59 H2181.22 Q2175.10,869.59 2175.10,863.47 V841.02 Q2175.10,834.90 2181.22,834.90 Z" stroke-width="1.52" fill="#fff"/>
<path d="M2182.24,840.00 H2234.80 Q2238.06,840.00 2238.06,843.27 V862.24 Q2238.06,865.51 2234.80,865.51 H2182.24 Q2178.98,865.51 2178.98,862.24 V843.27 Q2178.98,840.00 2182.24,840.00 Z" stroke-width="2.69" />
<path d="M2180.20,858.06 H2237.35" stroke-width="1.99" />
<path d="M2182.76,859.39 V865.31 M2234.29,859.39 V865.31" stroke-width="1.64" />
<path d="M2182.24,866.02 V870.61 H2193.47 V866.02 M2225.61,866.02 V869.59 H2236.33 V866.02 M2195.00,866.02 V871.63 H2221.02 V866.02" stroke-width="1.52" />
<path d="M2167.96,873.16 H2222.55 V881.33 H2167.96 Z" stroke-width="1.87" fill="#fff"/>
<path d="M2171.53,873.16 V881.33 M2217.96,873.16 V881.33" stroke-width="1.75" />
<path d="M2220.51,873.16 V881.33" stroke-width="2.57" />
<path d="M2243.47,853.78 H2262.86 Q2270.51,853.78 2270.51,861.43 V892.04 H2266.94 V863.47 Q2266.94,860.41 2263.88,860.41 H2243.47" stroke-width="1.75" />
<path d="M2243.47,856.84 H2262.86 Q2267.96,857.04 2268.78,861.94 V891.02" stroke-width="1.29" />
<path d="M2243.47,843.06 H2272.55 M2243.47,862.96 H2251.63 M2247.55,840.71 L2272.24,836.94 M2255.71,842.24 L2272.55,838.67 M2252.65,866.02 L2266.94,862.96" stroke-width="1.52" />
<path d="M2253.67,868.57 H2265.92 M2253.67,874.69 H2265.92 M2253.67,876.94 H2265.92" stroke-width="1.52" />
<path d="M2253.67,933.37 H2270.00" stroke-width="3.74" />
<path d="M2179.90,945.00 H2227.35 V951.12 H2179.90 Z M2179.90,960.82 H2227.35 V965.92 H2179.90 Z" stroke-width="1.99" fill="#fff"/>
<path d="M2196.73,944.29 H2210.00" stroke-width="2.34" />
<path d="M2167.65,951.84 H2174.29 M2167.65,958.78 H2174.29 M2167.65,951.84 V958.78 M2171.22,952.65 V957.96 M2174.29,952.65 V957.96" stroke-width="1.75" />
<path d="M2178.37,953.67 H2228.37 V958.78 H2178.37 Z" stroke-width="2.57" fill="#fff"/>
<circle cx="2235.3" cy="954.9" r="5.4" stroke-width="4.91" fill="#fff"/>
<circle cx="2259.5" cy="961.8" r="4.6" stroke-width="1" fill="#000"/>
<path d="M2318.76,818.00 L2318.25,817.23 L2317.66,816.39 L2317.32,815.62 L2317.40,815.03 L2318.00,814.61 L2318.85,814.44 L2319.86,814.27 L2320.71,814.10 L2321.31,813.84 L2321.39,813.25 L2321.14,812.49 L2320.71,811.55 L2320.37,810.62 L2320.29,809.94 L2320.71,809.43 L2321.48,809.26 L2322.41,809.26 L2323.43,809.35 L2324.19,809.26 L2324.61,808.92 L2324.70,808.24 L2324.44,807.31 L2324.27,806.38 L2324.19,805.53 L2324.44,804.94 L2325.04,804.68 L2325.89,804.77 L2326.82,804.94 L2327.75,805.19 L2328.43,805.11 L2328.77,804.68 L2328.85,803.92 L2328.77,802.90 L2328.77,801.97 L2328.94,801.20 L2329.45,800.78 L2330.13,800.87 L2331.06,801.20 L2331.99,801.63 L2332.76,801.88 L2333.35,801.80 L2333.60,801.20 L2333.77,800.36 L2333.94,799.34 L2334.11,798.49 L2334.54,797.90 L2335.13,797.81 L2335.89,798.15 L2336.74,798.74 L2337.51,799.25 L2338.18,799.51 L2338.69,799.34 L2339.12,798.74 L2339.37,797.81 L2339.71,796.88 L2340.14,796.12 L2340.73,795.86 L2341.32,796.12 L2342.09,796.71 L2342.77,797.47 L2343.44,797.98 L2343.95,798.24 L2344.46,797.90 L2344.97,797.22 L2345.48,796.37 L2345.99,795.52 L2346.50,795.10 L2347.09,795.10 L2347.68,795.69 L2348.28,796.45 L2348.79,797.30 L2349.38,797.81 L2349.89,797.90 L2350.48,797.56 L2351.08,796.79 L2351.76,796.03 L2352.35,795.52 L2352.94,795.35 L2353.54,795.69 L2353.96,796.45 L2354.39,797.39 L2354.81,798.24 L2355.23,798.66 L2355.74,798.66 L2356.42,798.24 L2357.18,797.64 L2357.95,797.05 L2358.71,796.71 L2359.22,796.88 L2359.64,797.56 L2359.90,798.49 L2360.15,799.42 L2360.41,800.19 L2360.83,800.53 L2361.51,800.44 L2362.27,800.10 L2363.12,799.59 L2363.97,799.25 L2364.65,799.25 L2365.07,799.68 L2365.24,800.53 L2365.33,801.54 L2365.33,802.48 L2365.58,803.16 L2366.01,803.41 L2366.77,803.32 L2367.70,802.99 L2368.63,802.73 L2369.48,802.65 L2369.99,802.90 L2370.16,803.58 L2370.08,804.51 L2369.91,805.53 L2369.91,806.38 L2370.08,806.97 L2370.67,807.14 L2371.52,807.14 L2372.54,806.97 L2373.47,806.89 L2374.15,807.06 L2374.40,807.57 L2374.32,808.41 L2374.06,809.35 L2373.72,810.28 L2373.64,811.04 L2373.89,811.47 L2374.57,811.72 L2375.50,811.72 L2376.52,811.81 L2377.37,811.98 L2377.79,812.40 L2377.79,813.08 L2377.46,813.93 L2376.95,814.78 L2376.61,815.54 L2376.52,816.22 L2376.86,816.64 L2377.63,816.90 L2378.56,817.15 L2379.49,817.40 L2380.17,817.83 L2380.34,818.34 L2380.00,819.10 L2379.41,819.86 L2378.81,820.63 L2378.39,821.31 L2378.39,821.82 L2378.81,822.24 L2379.66,822.66 L2380.59,823.09 L2381.36,823.51 L2381.70,824.11 L2381.53,824.70 L2381.02,825.29 L2380.25,825.97 L2379.49,826.56 L2379.15,827.16 L2379.24,827.67 L2379.75,828.26 L2380.59,828.77 L2381.36,829.36 L2381.95,829.96 L2381.95,830.55 L2381.53,831.06 L2380.68,831.57 L2379.83,832.08 L2379.15,832.59 L2378.81,833.10 L2379.07,833.60 L2379.58,834.28 L2380.34,834.96 L2380.93,835.73 L2381.19,836.32 L2380.93,836.91 L2380.17,837.34 L2379.24,837.68 L2378.30,837.93 L2377.71,838.35 L2377.54,838.86 L2377.79,839.54 L2378.30,840.31 L2378.90,841.15 L2379.24,841.92 L2379.15,842.51 L2378.56,842.93 L2377.71,843.10 L2376.69,843.27 L2375.84,843.44 L2375.25,843.70 L2375.17,844.29 L2375.42,845.06 L2375.84,845.99 L2376.18,846.92 L2376.27,847.60 L2375.84,848.11 L2375.08,848.28 L2374.15,848.28 L2373.13,848.19 L2372.37,848.28 L2371.94,848.62 L2371.86,849.30 L2372.11,850.23 L2372.28,851.16 L2372.37,852.01 L2372.11,852.60 L2371.52,852.86 L2370.67,852.77 L2369.74,852.60 L2368.80,852.35 L2368.13,852.43 L2367.79,852.86 L2367.70,853.62 L2367.79,854.64 L2367.79,855.57 L2367.62,856.34 L2367.11,856.76 L2366.43,856.68 L2365.50,856.34 L2364.56,855.91 L2363.80,855.66 L2363.21,855.74 L2362.95,856.34 L2362.78,857.18 L2362.61,858.20 L2362.44,859.05 L2362.02,859.64 L2361.42,859.73 L2360.66,859.39 L2359.81,858.80 L2359.05,858.29" stroke-width="2.57" />
<path d="M2280.00,829.02 L2338.52,813.59 M2290.18,829.19 L2335.98,815.62 M2305.45,830.21 L2331.91,822.15" stroke-width="2.11" />
<path d="M2316.30,819.19 L2320.71,813.50" stroke-width="2.57" />
<circle cx="2348.3" cy="828.8" r="17.4" stroke-width="3.28" fill="#fff"/>
<path d="M2302.48,842.93 H2347.01 A9.33,9.33 0 0 1 2347.01,861.42 H2302.48" stroke-width="2.57" fill="#fff"/>
<path d="M2330.04,842.93 A9.33,9.33 0 0 1 2330.04,861.42" stroke-width="2.57" />
<path d="M2339.37,842.93 H2347.01 M2335.56,861.42 H2347.01" stroke-width="2.57" />
</g>
<path d="M2361.42,797.98 H2375.00 V802.22 M2367.36,797.98 V802.22 M2371.18,799.51 V802.22" stroke-width="1.87" />
<path d="M2372.03,802.56 H2416.56 V830.89 Q2416.73,833.01 2419.10,833.10 H2421.65 Q2421.82,827.67 2424.19,827.50 H2431.82 Q2433.94,827.33 2433.94,824.11 V813.08 Q2433.69,808.67 2430.13,808.50 H2416.56" stroke-width="2.34" />
<path d="M2372.03,807.14 H2416.56" stroke-width="2.81" />
<path d="M2372.03,802.56 V807.14" stroke-width="1.87" />
<path d="M2416.56,812.23 H2433.10" stroke-width="2.11" />
<path d="M2406.38,802.22 Q2406.80,800.78 2408.50,800.78 H2412.74 Q2414.44,800.78 2414.86,802.22 M2409.35,802.56 V807.14 M2412.32,802.56 V807.14" stroke-width="1.87" />
<path d="M2421.65,833.10 H2442.43 Q2444.12,833.27 2444.12,835.13 V851.67 Q2444.12,852.94 2442.43,852.94 H2372.03 V848.28 H2444.12" stroke-width="2.34" />
<path d="M2372.03,848.28 H2443.70" stroke-width="2.81" />
<path d="M2409.35,848.28 V852.94 M2412.32,848.28 V852.94 M2406.38,853.11 Q2407.23,854.64 2408.92,854.64 H2412.74 Q2414.44,854.64 2415.03,853.11" stroke-width="1.87" />
<path d="M2372.03,852.94 V856.76 M2375.00,852.94 V858.03 Q2374.83,859.30 2372.88,859.39 H2362.27 V862.10 H2371.60 V859.39 M2363.55,860.58 H2371.18" stroke-width="1.87" />
<path d="M2356.76,856.76 Q2358.88,859.73 2362.27,859.39" stroke-width="2.11" />
<g transform="translate(0,376.3)">
<path d="M2361.42,797.98 H2375.00 V802.22 M2367.36,797.98 V802.22 M2371.18,799.51 V802.22" stroke-width="1.87" />
<path d="M2372.03,802.56 H2416.56 V830.89 Q2416.73,833.01 2419.10,833.10 H2421.65 Q2421.82,827.67 2424.19,827.50 H2431.82 Q2433.94,827.33 2433.94,824.11 V813.08 Q2433.69,808.67 2430.13,808.50 H2416.56" stroke-width="2.34" />
<path d="M2372.03,807.14 H2416.56" stroke-width="2.81" />
<path d="M2372.03,802.56 V807.14" stroke-width="1.87" />
<path d="M2416.56,812.23 H2433.10" stroke-width="2.11" />
<path d="M2406.38,802.22 Q2406.80,800.78 2408.50,800.78 H2412.74 Q2414.44,800.78 2414.86,802.22 M2409.35,802.56 V807.14 M2412.32,802.56 V807.14" stroke-width="1.87" />
<path d="M2421.65,833.10 H2442.43 Q2444.12,833.27 2444.12,835.13 V851.67 Q2444.12,852.94 2442.43,852.94 H2372.03 V848.28 H2444.12" stroke-width="2.34" />
<path d="M2372.03,848.28 H2443.70" stroke-width="2.81" />
<path d="M2409.35,848.28 V852.94 M2412.32,848.28 V852.94 M2406.38,853.11 Q2407.23,854.64 2408.92,854.64 H2412.74 Q2414.44,854.64 2415.03,853.11" stroke-width="1.87" />
<path d="M2372.03,852.94 V856.76 M2375.00,852.94 V858.03 Q2374.83,859.30 2372.88,859.39 H2362.27 V862.10 H2371.60 V859.39 M2363.55,860.58 H2371.18" stroke-width="1.87" />
<path d="M2356.76,856.76 Q2358.88,859.73 2362.27,859.39" stroke-width="2.11" />
</g>
<path d="M2175.31,994.49 H2194.69 V1038.88 H2175.31 Z" stroke-width="1.87" />
<path d="M2175.82,994.49 V1038.88" stroke-width="3.51" />
<path d="M2174.29,966.43 V993.47 H2180.92 M2180.92,966.43 V993.47 M2174.29,1039.90 H2180.92 M2174.29,1039.90 V1066.94 M2180.92,1039.90 V1066.94" stroke-width="1.75" />
<path d="M2212.04,981.73 H2241.63 M2212.04,1050.61 H2241.63 M2236.53,981.73 V1050.61" stroke-width="1.87" />
<circle cx="2200.8" cy="1016.3" r="17.9" stroke-width="2.22" />
<circle cx="2200.8" cy="1016.3" r="12.0" stroke-width="3.28" />
<circle cx="2200.8" cy="1016.3" r="9.3" stroke-width="1.0" />
<path d="M2194.69,966.43 H2212.04 V1066.94 H2194.69 Z" stroke-width="2.11" fill="#fff"/>
<path d="M2251.8,862.5 V1170.1" stroke-width="4.21" />
<path d="M2253.8,868 V1164.6" stroke-width="1.4" />
<path d="M2269.4,888 V1144.6" stroke-width="1.75" />
<path d="M2269.69,990.41 Q2265.10,994.49 2265.10,998.57 V1034.29 Q2265.10,1038.37 2269.69,1042.45 M2269.69,994.49 Q2266.94,996.53 2266.94,999.59 V1033.27 Q2266.94,1036.33 2269.69,1038.88" stroke-width="1.75" />
<circle cx="2288.2" cy="904.3" r="20.3" stroke-width="2.57" />
<circle cx="2288.2" cy="904.3" r="17.8" stroke-width="1.29" />
<circle cx="2288.2" cy="1128.3" r="20.3" stroke-width="2.57" />
<circle cx="2288.2" cy="1128.3" r="17.8" stroke-width="1.29" />
<path d="M2272.6,836 H2302 V1196.6 H2272.6 Z" stroke-width="2.34" fill="#fff"/>
<path d="M2302.5,872 H2392 A28,28 0 0 1 2419.5,900 V943 M2419.5,1089.6 V1132.6 A28,28 0 0 1 2392,1160.6 H2302.5" stroke-width="2.57" />
<path d="M2302.5,876.6 H2345 Q2349,877 2349.5,881 V1151.6 Q2349,1155.6 2345,1156.0 H2302.5" stroke-width="1.52" />
<path d="M2349.5,879.5 H2396 A23,23 0 0 1 2419,902.5 M2349.5,1153.1 H2396 A23,23 0 0 0 2419,1130.1" stroke-width="1.87" />
<path d="M2349.2,876 V1156.6" stroke-width="3.74" />
<path d="M2392.5,873 L2396,879 M2392.5,1159.6 L2396,1153.6" stroke-width="1.4" />
<path d="M2302.5,932.8 H2322 A20.5,20.5 0 0 1 2342.5,953.3 V1079.3 A20.5,20.5 0 0 1 2322,1099.8 H2302.5" stroke-width="4.68" />
<circle cx="2312.2" cy="958.3" r="10.4" stroke-width="2.11" />
<path d="M2307.96,949.59 Q2313.06,954.69 2321.73,956.22 M2311.02,949.08 Q2315.10,952.65 2320.71,954.18 M2303.88,964.90 H2319.69 M2308.47,967.45 H2315.61" stroke-width="1.52" />
<circle cx="2313.8" cy="1006.2" r="7.3" stroke-width="2.81" />
<circle cx="2313.8" cy="1026.8" r="7.3" stroke-width="2.81" />
<circle cx="2313.1" cy="1074.9" r="10.6" stroke-width="3.28" />
<path d="M2309.5,1074.9 H2316.8" stroke-width="2.57" />
<circle cx="2259.5" cy="1070.8" r="0.0" stroke-width="0" />
<path d="M2418.8,942 Q2419.5,944.5 2422,944.5 H2427 Q2433.6,945 2433.6,952 V1080.6 Q2433.6,1087.6 2427,1088.1 H2422 Q2419.5,1088.1 2418.8,1090.6" stroke-width="2.11" />
<path d="M2419.6,947.5 H2426 L2432.6,949.0 M2419.6,1085.1 H2426 L2432.6,1083.6" stroke-width="2.57" />
<path d="M2419.6,952.8 H2426 L2432.6,954.3 M2419.6,1079.8 H2426 L2432.6,1078.3" stroke-width="2.57" />
<path d="M2419.6,958.2 H2426 L2432.6,959.7 M2419.6,1074.3999999999999 H2426 L2432.6,1072.8999999999999" stroke-width="2.57" />
<path d="M2419.6,963.5 H2426 L2432.6,965.0 M2419.6,1069.1 H2426 L2432.6,1067.6" stroke-width="2.57" />
<path d="M2423.4,972 V1060.6" stroke-width="2.69" />
<path d="M2428,972 V1060.6" stroke-width="1.64" />
<path d="M2382.8,977.3 V1055.3" stroke-width="2.34" />
<path d="M2382.8,977.3 L2416.5,963.2 M2382.8,977.6 L2420,969.5 M2382.8,978 L2422.6,974.3 M2416.5,963.2 L2424,974" stroke-width="1.87" />
<path d="M2382.8,1055.3 L2416.5,1069.3999999999999 M2382.8,1055.0 L2420,1063.1 M2382.8,1054.6 L2422.6,1058.3 M2416.5,1069.3999999999999 L2424,1058.6" stroke-width="1.87" />
<path d="M2424.5,966 L2429.5,972 L2432.5,968 M2424.5,1066.6 L2429.5,1060.6 L2432.5,1064.6" stroke-width="1.52" />
</g>
<g fill="none" stroke="#000" stroke-linejoin="round">
<path d="M1530,969.8 H2054.3 M1530,977 H2054.3" stroke-width="2.22" />
<path d="M1825.9,969.8 V977 M1891.5,969.8 V977" stroke-width="1.99" />
<path d="M1530.29,970.38 V976.44" stroke-width="2.81" />
<path d="M1534.44,969.43 Q1538.27,966.88 1548.15,967.70 V969.43 Z M1534.44,976.89 Q1538.27,979.63 1548.15,978.80 V976.89 Z" stroke-width="1.0" fill="#000"/>
<path d="M1566.01,953.80 A19.64,19.64 0 0 0 1566.01,992.70" stroke-width="3.04" />
<path d="M1581.95,959.22 A19.64,19.64 0 0 1 1587.69,969.43 M1581.95,987.28 A19.64,19.64 0 0 0 1587.69,977.08" stroke-width="1.75" />
<path d="M1551.66,969.11 H1559.95 L1566.33,965.60 V969.43 Z M1551.66,977.40 H1559.95 L1566.33,980.91 V977.08 Z" stroke-width="1.0" fill="#000"/>
<path d="M1566.33,956.67 H1581.63 V964.64 H1566.33 Z M1566.33,982.82 H1581.63 V990.79 H1566.33 Z" stroke-width="3.28" fill="#fff"/>
<path d="M1568.56,954.76 Q1569.52,953.16 1571.43,953.16 H1577.17 Q1579.08,953.16 1580.04,954.76 Z M1569.52,991.75 Q1570.79,994.62 1573.34,994.74 H1576.53 Q1578.12,994.49 1579.08,991.75 Z" stroke-width="1.75" fill="#000"/>
<path d="M1571.56,953.16 V946.15 Q1571.75,943.72 1573.98,943.72 Q1576.21,943.72 1576.40,946.15 V953.16" stroke-width="2.81" />
<path d="M1577.93,964.64 V982.82" stroke-width="3.04" />
<path d="M1570.79,965.92 H1577.17 V969.11 H1570.79 Z M1570.79,978.04 H1577.17 V981.22 H1570.79 Z M1579.08,967.32 H1584.82 M1579.08,978.99 H1584.82 M1584.82,967.32 L1582.91,964.01 M1584.82,978.99 L1582.91,982.82" stroke-width="1.87" />
<path d="M2097.14,929.49 L1960.92,966.22 Q1958.37,966.94 1958.88,969.29 M2097.14,1017.24 L1960.92,981.02 Q1958.37,980.31 1958.88,978.16" stroke-width="3.51" />
<path d="M2095.61,921.84 H2125.20 V928.98 H2095.61 Z M2095.61,1017.76 H2125.20 V1024.90 H2095.61 Z" stroke-width="2.57" />
<path d="M2110.92,921.84 V928.98 M2110.92,1017.76 V1024.90" stroke-width="2.34" />
<path d="M2100.71,920.00 H2133.37 M2100.71,1027.14 H2133.37" stroke-width="4.68" />
<path d="M2098.67,931.02 H2121.63 V1015.71 H2098.67 Z" stroke-width="2.11" />
<path d="M2097.65,930.00 H2123.67 M2097.65,1016.53 H2123.67" stroke-width="3.51" />
<path d="M2124.49,928.98 V1017.76" stroke-width="1.52" />
<path d="M2126.73,918.57 V1028.57" stroke-width="3.74" />
<path d="M2132.86,918.57 V1028.57 M2118.57,918.57 H2133.37 M2118.57,1028.57 H2133.37 M2128.27,926.43 H2132.86 M2128.27,1020.61 H2132.86" stroke-width="1.87" />
<path d="M2133.37,928.47 H2138.98 M2133.37,941.22 H2138.98 M2133.37,943.78 H2138.98 M2133.37,1003.98 H2138.98 M2133.37,1006.02 H2138.98 M2133.37,1017.76 H2138.98" stroke-width="1.75" />
<path d="M2046.63,959.08 H2125.20 V987.65 H2046.63 Q2044.59,987.65 2044.59,985.61 V961.12 Q2044.59,959.08 2046.63,959.08 Z" stroke-width="2.34" fill="#fff"/>
<path d="M2045.61,960.82 H2125.20 M2045.61,986.12 H2125.20 M2061.43,967.24 H2118.57 M2061.43,980.00 H2118.57" stroke-width="1.87" />
<path d="M2060.41,960.61 V986.12" stroke-width="3.51" />
<path d="M2067.55,960.61 V986.12 M2118.57,960.61 V986.12" stroke-width="2.34" />
<path d="M2095.61,969.59 H2125.20 V977.65 H2095.61 Z M2110.92,969.59 V977.65" stroke-width="2.81" />
<path d="M2062.45,965.92 H2067.04 M2062.45,981.22 H2067.04" stroke-width="1.64" />
<path d="M2044.59,970.00 H2054.29 V977.76 H2044.59" stroke-width="2.11" fill="#fff"/>
<path d="M2055.82,971.33 H2059.39 V976.43 H2055.82 Z" stroke-width="1.87" />
</g>
</svg></body></html>
